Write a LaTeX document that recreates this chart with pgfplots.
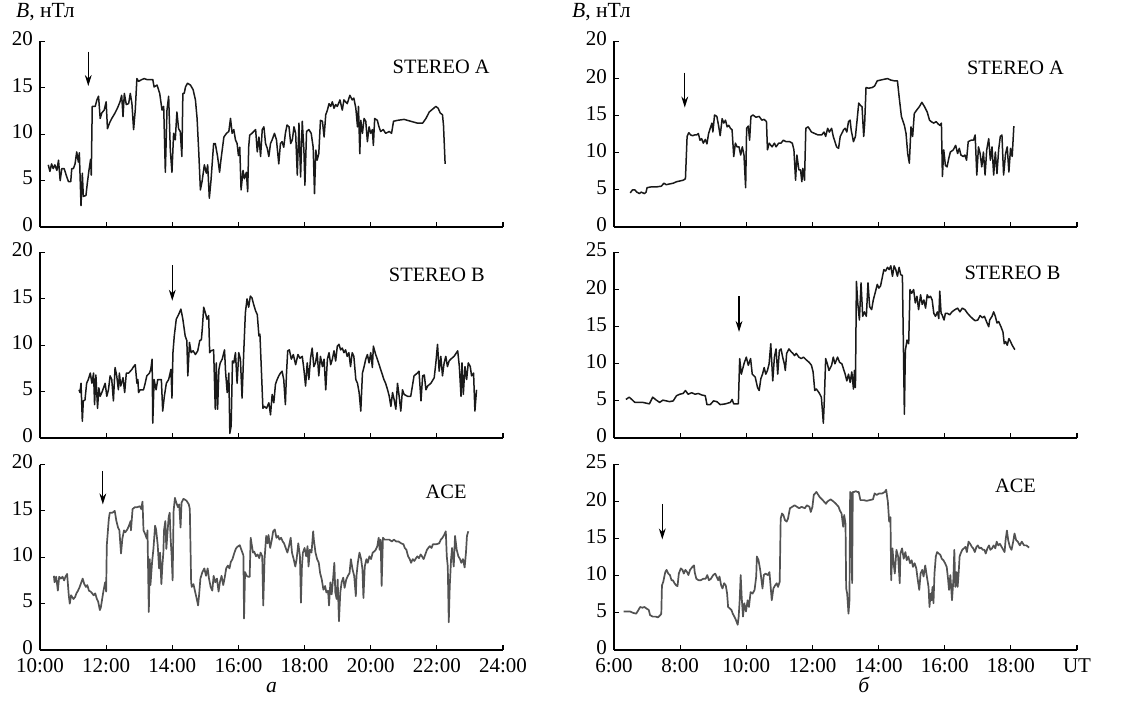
\documentclass[border=0pt]{standalone}
\usepackage{fontspec}
\setmainfont{Liberation Serif}
\usepackage{pgfplots}
\pgfplotsset{compat=1.18}
\usetikzlibrary{arrows.meta}
\tikzset{
  lab/.style={font=\fontsize{10.2}{12}\selectfont},
  st/.style={black!90, line width=0.75pt, line join=round},
  ace/.style={black!68, line width=0.85pt, line join=round},
  arr/.style={black, line width=0.6pt, -{Stealth[length=5.5pt,width=3.4pt]}},
  sub/.style={anchor=base, yshift=-21pt, inner sep=0.5pt, font=\fontsize{10.8}{12}\selectfont},
}
\begin{document}
\begin{tikzpicture}
\useasboundingbox (0,0) rectangle (561pt,350.5pt);
\pgfplotsset{
  panel/.style={scale only axis, width=231.5pt, height=92.75pt, anchor=south west,
    axis x line=bottom, axis y line=left, axis line style={-, line width=0.55pt},
    tick align=inside, major tick length=2.5pt, tick style={black, line width=0.55pt},
    ymin=0, xticklabels={}, clip=false,
    yticklabel style={font=\fontsize{10.5}{12}\selectfont, inner ysep=0.5pt, yshift=1.2pt},
    xticklabel style={font=\fontsize{10.5}{12}\selectfont, inner ysep=1pt, yshift=-3pt}},
  L/.style={xmin=10, xmax=24, xtick={10,12,14,16,18,20,22,24}},
  R/.style={xmin=6, xmax=20, xtick={6,8,10,12,14,16,18,20}},
  y20/.style={ymax=20, ytick={0,5,10,15,20}, yticklabels={0,5,10,15,20}},
  y25/.style={ymax=25, ytick={0,5,10,15,20,25}, yticklabels={0,5,10,15,20,25}},
}
\node[anchor=west, font=\fontsize{10.8}{12}\selectfont] at (4.5pt,344.5pt) {\textit{B}, нТл};
\node[anchor=west, font=\fontsize{10.8}{12}\selectfont] at (282.5pt,344.5pt) {\textit{B}, нТл};

% ---------- left top: STEREO A ----------
\begin{axis}[panel, L, y20, at={(20pt,237pt)}]
\addplot[st] coordinates {(10.25,6.7)(10.30,6.0)(10.35,6.8)(10.40,6.3)(10.45,6.7)(10.51,6.1)(10.56,7.2)(10.61,5.0)(10.66,6.3)(10.73,6.3)(10.81,5.4)(10.86,4.9)(10.93,4.9)(10.96,6.3)(11.01,6.3)(11.06,6.8)(11.11,8.1)(11.16,7.0)(11.19,8.0)(11.24,2.3)(11.28,5.8)(11.31,3.3)(11.39,3.4)(11.43,4.7)(11.48,6.1)(11.53,7.3)(11.55,5.6)(11.58,13.0)(11.67,13.0)(11.72,13.7)(11.77,14.1)(11.82,11.7)(11.87,12.3)(11.94,12.6)(12.00,13.5)(12.04,10.6)(12.10,11.2)(12.17,11.7)(12.27,12.3)(12.34,12.8)(12.42,13.5)(12.47,14.2)(12.51,11.9)(12.55,14.4)(12.61,13.2)(12.68,13.3)(12.73,14.4)(12.78,13.3)(12.83,10.5)(12.88,12.6)(12.93,16.0)(12.98,15.7)(13.08,15.9)(13.15,16.0)(13.23,15.9)(13.33,15.9)(13.41,15.9)(13.45,15.1)(13.54,15.3)(13.62,14.4)(13.69,12.6)(13.74,13.0)(13.79,5.9)(13.84,12.6)(13.89,14.1)(13.94,8.3)(13.99,5.9)(14.04,10.1)(14.09,9.4)(14.14,12.4)(14.19,10.6)(14.24,10.3)(14.29,7.6)(14.32,14.4)(14.36,14.4)(14.40,15.1)(14.46,15.5)(14.55,15.3)(14.63,14.8)(14.70,13.7)(14.75,11.7)(14.80,8.1)(14.85,4.0)(14.90,4.9)(14.97,6.7)(15.03,5.8)(15.07,6.7)(15.12,3.1)(15.17,5.0)(15.25,9.0)(15.30,9.0)(15.37,7.6)(15.43,5.9)(15.47,7.2)(15.56,9.7)(15.64,10.1)(15.71,10.3)(15.76,11.7)(15.81,10.1)(15.86,10.5)(15.91,9.4)(15.96,9.0)(16.00,7.7)(16.04,8.6)(16.08,4.0)(16.14,6.1)(16.18,5.2)(16.24,5.9)(16.28,3.8)(16.31,8.6)(16.34,9.9)(16.41,10.1)(16.52,10.5)(16.57,8.1)(16.62,9.7)(16.67,7.6)(16.72,10.5)(16.77,10.8)(16.82,9.0)(16.87,8.5)(16.92,7.6)(16.97,9.0)(17.02,9.4)(17.09,10.1)(17.15,9.4)(17.22,6.8)(17.27,9.0)(17.32,9.2)(17.37,8.6)(17.42,10.1)(17.47,11.0)(17.53,10.8)(17.58,9.0)(17.63,9.4)(17.68,10.8)(17.73,10.1)(17.78,5.6)(17.83,11.2)(17.88,5.4)(17.93,11.4)(17.98,8.3)(18.01,4.5)(18.06,10.3)(18.13,10.5)(18.20,10.1)(18.26,8.6)(18.30,3.6)(18.34,8.3)(18.38,7.2)(18.43,7.9)(18.48,11.5)(18.54,11.4)(18.59,9.7)(18.64,12.1)(18.69,12.6)(18.74,13.3)(18.79,13.0)(18.84,13.5)(18.89,12.8)(18.94,13.2)(18.99,13.0)(19.07,13.7)(19.14,12.6)(19.19,13.7)(19.29,13.3)(19.37,14.2)(19.44,13.7)(19.49,13.9)(19.55,12.8)(19.60,10.8)(19.63,13.0)(19.67,7.9)(19.70,11.5)(19.75,10.1)(19.80,11.7)(19.85,11.4)(19.90,9.2)(19.95,10.8)(20.00,10.1)(20.05,10.5)(20.08,8.8)(20.12,11.7)(20.20,11.5)(20.25,10.8)(20.30,10.3)(20.38,10.5)(20.45,10.1)(20.56,10.3)(20.63,10.1)(20.69,11.4)(20.81,11.5)(21.01,11.6)(21.21,11.4)(21.41,11.2)(21.57,11.2)(21.67,11.7)(21.77,12.4)(21.87,12.7)(21.97,13.0)(22.04,12.8)(22.10,12.3)(22.17,12.1)(22.20,11.0)(22.25,6.8)};
\addplot[arr] coordinates {(11.46,18.9) (11.46,15.2)};
\node[lab] at (axis cs:22.13,17.3) {STEREO A};
\end{axis}

% ---------- left middle: STEREO B ----------
\begin{axis}[panel, L, y20, at={(20pt,131.5pt)}]
\addplot[st] coordinates {(11.18,5.2)(11.21,4.9)(11.24,5.9)(11.28,1.8)(11.31,4.0)(11.36,4.1)(11.41,5.9)(11.46,6.3)(11.52,7.0)(11.57,5.9)(11.62,7.0)(11.65,3.6)(11.69,6.8)(11.74,3.2)(11.78,5.4)(11.82,4.5)(11.87,4.9)(11.92,5.4)(11.97,5.9)(12.02,4.5)(12.07,5.2)(12.12,6.7)(12.17,6.3)(12.22,4.0)(12.27,7.6)(12.32,6.7)(12.37,5.2)(12.40,7.0)(12.44,5.6)(12.51,6.5)(12.56,4.9)(12.61,7.0)(12.68,7.0)(12.73,7.2)(12.78,7.4)(12.83,7.7)(12.88,7.9)(12.93,5.9)(12.96,6.3)(12.98,4.9)(13.03,5.2)(13.13,5.2)(13.18,5.9)(13.23,6.7)(13.31,7.0)(13.35,7.4)(13.39,8.5)(13.41,1.6)(13.45,6.3)(13.51,5.2)(13.56,6.3)(13.62,6.3)(13.67,6.3)(13.71,2.9)(13.76,4.5)(13.82,5.9)(13.89,6.3)(13.96,7.4)(13.99,4.3)(14.02,9.2)(14.06,11.0)(14.12,12.8)(14.19,13.3)(14.26,13.9)(14.32,12.8)(14.39,11.0)(14.44,10.5)(14.47,6.7)(14.52,10.3)(14.57,9.2)(14.63,9.4)(14.70,9.0)(14.77,9.4)(14.83,10.5)(14.88,10.6)(14.91,11.9)(14.95,14.1)(15.00,13.5)(15.05,12.8)(15.10,13.2)(15.13,9.2)(15.17,9.4)(15.25,9.5)(15.30,3.1)(15.33,8.1)(15.37,3.1)(15.41,7.4)(15.45,8.1)(15.51,8.5)(15.58,9.5)(15.61,7.2)(15.66,4.9)(15.71,7.0)(15.74,0.5)(15.78,1.3)(15.82,8.3)(15.86,8.1)(15.91,9.2)(15.96,5.9)(16.01,9.2)(16.06,8.5)(16.11,4.3)(16.16,9.2)(16.21,13.5)(16.26,15.0)(16.31,14.1)(16.36,15.3)(16.41,15.1)(16.46,14.4)(16.52,13.7)(16.57,13.3)(16.62,11.0)(16.65,11.2)(16.69,7.7)(16.74,3.2)(16.79,3.4)(16.85,3.2)(16.92,3.8)(16.97,2.5)(17.02,4.7)(17.07,3.8)(17.12,5.8)(17.17,6.3)(17.22,6.7)(17.27,7.0)(17.32,7.2)(17.37,6.3)(17.42,3.6)(17.45,6.7)(17.49,9.4)(17.54,9.5)(17.60,8.5)(17.66,9.0)(17.73,7.9)(17.80,9.0)(17.86,8.6)(17.93,8.8)(17.98,7.4)(18.03,5.6)(18.08,8.1)(18.13,6.3)(18.18,8.6)(18.23,9.7)(18.28,7.7)(18.33,8.1)(18.38,9.2)(18.43,6.7)(18.48,8.8)(18.54,7.7)(18.59,8.5)(18.64,5.2)(18.69,8.5)(18.74,9.2)(18.79,7.9)(18.84,8.5)(18.89,9.4)(18.94,8.3)(18.99,9.9)(19.04,10.1)(19.09,9.5)(19.14,9.7)(19.19,9.2)(19.24,9.5)(19.29,8.8)(19.34,9.2)(19.39,7.7)(19.44,9.2)(19.49,8.8)(19.55,6.3)(19.60,5.9)(19.65,4.9)(19.70,2.9)(19.75,7.0)(19.80,7.7)(19.85,8.5)(19.90,9.0)(19.95,8.1)(20.00,9.2)(20.05,7.6)(20.08,9.9)(20.15,9.0)(20.20,8.5)(20.30,7.4)(20.40,6.3)(20.45,5.9)(20.51,5.2)(20.56,4.5)(20.61,3.4)(20.66,4.9)(20.71,4.1)(20.76,3.1)(20.81,5.9)(20.86,4.5)(20.91,2.9)(20.96,5.2)(21.01,4.7)(21.11,4.5)(21.21,4.5)(21.31,6.7)(21.41,7.0)(21.46,7.2)(21.52,4.0)(21.57,6.7)(21.62,6.8)(21.67,5.2)(21.72,5.6)(21.82,5.9)(21.92,6.5)(21.97,8.1)(22.02,10.1)(22.07,7.2)(22.12,8.8)(22.17,6.7)(22.22,8.1)(22.27,8.8)(22.32,7.7)(22.37,8.3)(22.42,8.5)(22.52,8.8)(22.63,9.4)(22.68,7.7)(22.73,4.5)(22.76,8.1)(22.80,4.7)(22.85,7.7)(22.90,6.3)(22.95,8.1)(23.01,7.7)(23.05,6.7)(23.11,7.0)(23.15,2.9)(23.20,5.2)};
\addplot[arr] coordinates {(14.0,18.6) (14.0,14.8)};
\node[lab] at (axis cs:22.0,17.6) {STEREO B};
\end{axis}

% ---------- left bottom: ACE ----------
\begin{axis}[panel, L, y20, at={(20pt,25.5pt)},
  xticklabels={10:00,12:00,14:00,16:00,18:00,20:00,22:00,24:00}]
\addplot[ace] coordinates {(10.42,8.0)(10.44,7.3)(10.49,7.9)(10.54,6.4)(10.58,7.9)(10.63,7.7)(10.68,7.9)(10.73,7.5)(10.77,7.9)(10.82,8.2)(10.87,5.9)(10.90,5.0)(10.94,5.9)(11.01,5.5)(11.06,5.7)(11.10,6.1)(11.15,6.4)(11.20,6.8)(11.25,7.3)(11.29,7.7)(11.34,7.1)(11.39,6.8)(11.43,7.0)(11.48,6.4)(11.53,6.3)(11.58,6.1)(11.62,5.9)(11.67,6.1)(11.72,5.5)(11.76,5.2)(11.81,4.3)(11.84,4.6)(11.88,5.5)(11.92,6.4)(11.97,7.3)(12.00,6.3)(12.02,11.3)(12.05,12.7)(12.08,14.1)(12.11,14.8)(12.19,14.8)(12.26,15.0)(12.31,13.9)(12.36,13.2)(12.40,12.9)(12.43,11.4)(12.45,10.4)(12.49,12.0)(12.54,12.9)(12.58,12.7)(12.64,13.0)(12.69,13.4)(12.74,13.9)(12.75,12.9)(12.80,15.2)(12.87,15.4)(12.94,15.4)(13.02,15.5)(13.06,15.2)(13.10,16.0)(13.13,12.9)(13.18,12.5)(13.23,12.0)(13.25,12.9)(13.29,4.1)(13.32,9.8)(13.34,7.0)(13.39,9.5)(13.43,10.9)(13.48,13.4)(13.51,13.0)(13.56,11.3)(13.60,8.8)(13.63,10.5)(13.67,7.1)(13.70,9.1)(13.73,10.5)(13.75,12.9)(13.79,13.9)(13.82,10.9)(13.86,12.9)(13.89,14.3)(13.92,14.8)(13.95,12.0)(13.98,10.2)(14.01,7.5)(14.04,15.0)(14.08,16.4)(14.12,15.9)(14.17,15.4)(14.21,15.7)(14.25,13.2)(14.28,15.9)(14.34,16.3)(14.43,16.1)(14.50,15.7)(14.53,15.2)(14.57,7.3)(14.59,6.8)(14.64,7.1)(14.69,6.3)(14.74,5.5)(14.78,4.8)(14.81,5.9)(14.85,7.7)(14.91,8.4)(14.97,8.8)(15.02,8.0)(15.07,8.8)(15.11,7.7)(15.16,6.8)(15.21,6.4)(15.25,8.0)(15.30,7.3)(15.35,7.7)(15.40,6.3)(15.44,7.3)(15.49,8.0)(15.54,7.0)(15.58,7.7)(15.63,8.8)(15.68,9.1)(15.73,8.8)(15.77,9.5)(15.82,9.8)(15.87,10.4)(15.92,10.9)(15.96,11.1)(16.04,11.3)(16.10,10.7)(16.15,10.2)(16.17,3.4)(16.20,8.4)(16.25,8.0)(16.29,7.9)(16.34,7.9)(16.37,12.1)(16.44,10.5)(16.48,10.6)(16.53,10.1)(16.58,10.3)(16.63,9.9)(16.67,10.5)(16.72,10.1)(16.75,4.8)(16.79,9.8)(16.84,12.3)(16.88,11.5)(16.91,12.4)(16.96,11.0)(17.01,11.9)(17.05,12.8)(17.10,13.0)(17.15,12.1)(17.20,12.3)(17.24,11.9)(17.29,12.1)(17.34,11.7)(17.38,11.5)(17.43,11.0)(17.48,10.5)(17.53,11.2)(17.58,12.1)(17.62,10.5)(17.67,9.8)(17.72,9.0)(17.76,9.8)(17.81,11.5)(17.86,10.1)(17.89,5.1)(17.92,9.0)(17.95,10.5)(18.00,11.0)(18.05,10.1)(18.09,11.2)(18.12,9.0)(18.16,10.8)(18.21,10.5)(18.26,12.8)(18.28,11.9)(18.33,10.5)(18.38,9.8)(18.43,9.4)(18.47,8.3)(18.52,7.6)(18.57,6.5)(18.62,6.9)(18.66,6.2)(18.71,6.4)(18.74,4.8)(18.78,7.3)(18.82,6.0)(18.87,8.0)(18.90,9.4)(18.93,6.2)(18.97,5.5)(19.00,7.6)(19.04,3.1)(19.08,6.2)(19.12,7.3)(19.17,7.8)(19.21,6.7)(19.26,7.6)(19.31,8.0)(19.36,8.3)(19.40,9.8)(19.45,8.7)(19.50,8.0)(19.55,5.8)(19.57,8.0)(19.61,9.4)(19.66,10.5)(19.71,9.8)(19.75,8.7)(19.78,5.6)(19.82,9.0)(19.87,9.8)(19.91,9.4)(19.96,10.1)(20.01,9.8)(20.06,10.5)(20.10,10.6)(20.15,10.8)(20.20,11.2)(20.24,12.1)(20.27,10.8)(20.30,11.9)(20.33,6.9)(20.37,12.1)(20.42,11.9)(20.48,11.9)(20.56,11.9)(20.64,11.7)(20.70,11.9)(20.77,11.7)(20.84,11.7)(20.92,11.5)(20.99,11.4)(21.03,11.0)(21.08,10.8)(21.13,10.1)(21.18,9.8)(21.22,9.4)(21.27,9.8)(21.32,9.6)(21.37,9.9)(21.41,10.1)(21.46,9.9)(21.51,10.3)(21.55,10.1)(21.60,9.8)(21.65,10.3)(21.70,10.8)(21.74,11.0)(21.79,11.2)(21.84,11.0)(21.88,11.4)(21.98,11.4)(22.07,11.5)(22.12,11.9)(22.17,12.1)(22.22,12.4)(22.27,12.8)(22.30,10.1)(22.33,9.0)(22.36,3.0)(22.39,6.9)(22.43,9.8)(22.46,11.0)(22.51,9.0)(22.55,12.3)(22.60,10.8)(22.65,10.1)(22.70,9.8)(22.74,9.4)(22.79,9.8)(22.84,8.9)(22.88,10.5)(22.91,12.3)(22.95,12.8)};
\addplot[arr] coordinates {(11.90,19.3) (11.90,15.7)};
\node[lab] at (axis cs:22.28,17.1) {ACE};
\node[sub] at (rel axis cs:0.5,0) {\textit{а}};
\end{axis}

% ---------- right top: STEREO A ----------
\begin{axis}[panel, R, y25, yticklabels={0,5,10,15,20,20}, at={(307pt,237pt)}]
\addplot[st] coordinates {(6.49,4.6)(6.56,5.0)(6.63,5.0)(6.69,4.7)(6.77,4.5)(6.82,4.7)(6.87,4.6)(6.92,4.5)(6.97,4.7)(7.00,5.3)(7.12,5.4)(7.28,5.4)(7.43,5.5)(7.51,5.9)(7.58,5.7)(7.68,5.8)(7.79,5.9)(7.89,6.1)(7.99,6.2)(8.09,6.3)(8.16,6.5)(8.21,12.2)(8.26,12.7)(8.32,12.4)(8.38,12.3)(8.43,12.4)(8.50,12.4)(8.55,12.6)(8.60,11.7)(8.65,11.9)(8.70,11.3)(8.76,11.8)(8.81,11.2)(8.86,12.6)(8.91,13.3)(8.96,14.0)(8.99,12.8)(9.04,15.1)(9.11,14.9)(9.16,13.7)(9.21,12.3)(9.27,14.6)(9.32,14.0)(9.37,14.4)(9.42,13.5)(9.47,13.7)(9.52,13.3)(9.57,13.1)(9.62,9.5)(9.67,11.3)(9.72,10.8)(9.78,10.8)(9.83,9.7)(9.88,10.8)(9.93,9.7)(9.98,5.3)(10.01,13.3)(10.06,13.6)(10.10,11.7)(10.14,14.9)(10.20,15.1)(10.29,14.8)(10.39,14.9)(10.47,14.4)(10.54,14.5)(10.61,14.2)(10.64,10.4)(10.69,11.3)(10.78,10.8)(10.85,11.3)(10.90,10.8)(10.98,11.3)(11.05,11.3)(11.12,11.7)(11.20,11.5)(11.31,11.5)(11.39,11.3)(11.44,10.4)(11.49,6.3)(11.53,9.7)(11.59,7.7)(11.64,7.7)(11.68,6.1)(11.71,7.9)(11.76,6.3)(11.80,13.3)(11.87,13.5)(11.97,12.8)(12.07,12.6)(12.17,12.4)(12.28,12.4)(12.35,12.8)(12.40,12.2)(12.46,13.3)(12.51,12.8)(12.58,13.3)(12.63,12.2)(12.68,11.5)(12.73,10.8)(12.79,10.6)(12.84,12.2)(12.91,12.8)(12.94,13.1)(12.99,13.3)(13.04,12.8)(13.09,14.2)(13.14,14.4)(13.17,13.1)(13.21,12.2)(13.24,11.5)(13.30,12.2)(13.35,14.4)(13.40,16.7)(13.45,16.4)(13.50,16.2)(13.55,12.2)(13.58,14.0)(13.62,18.8)(13.70,18.7)(13.81,18.8)(13.88,19.0)(13.96,19.7)(14.06,19.8)(14.16,19.9)(14.27,20.0)(14.37,19.8)(14.47,19.7)(14.57,19.7)(14.62,17.6)(14.69,14.9)(14.78,13.7)(14.83,12.6)(14.88,9.9)(14.93,8.6)(14.98,13.5)(15.03,12.2)(15.08,15.3)(15.16,15.8)(15.23,16.2)(15.31,16.8)(15.39,16.2)(15.47,15.5)(15.54,14.4)(15.59,14.2)(15.67,14.0)(15.74,14.2)(15.80,13.9)(15.85,13.7)(15.90,14.0)(15.93,6.8)(15.97,10.4)(16.02,8.3)(16.07,8.1)(16.12,9.2)(16.17,10.1)(16.26,10.4)(16.33,11.0)(16.39,9.9)(16.44,10.6)(16.49,9.7)(16.56,9.5)(16.61,9.7)(16.66,9.0)(16.71,11.5)(16.80,11.7)(16.87,11.7)(16.92,12.4)(16.97,7.0)(17.02,10.8)(17.07,9.9)(17.12,8.1)(17.17,10.1)(17.22,7.0)(17.27,10.4)(17.33,11.9)(17.38,9.0)(17.43,10.8)(17.48,7.0)(17.53,10.1)(17.58,7.2)(17.63,10.4)(17.68,12.2)(17.73,12.4)(17.78,7.0)(17.84,9.9)(17.89,10.8)(17.94,7.4)(17.99,10.6)(18.04,9.5)(18.09,13.6)};
\addplot[arr] coordinates {(8.14,20.8) (8.14,16.1)};
\node[lab] at (axis cs:18.14,21.4) {STEREO A};
\end{axis}

% ---------- right middle: STEREO B ----------
\begin{axis}[panel, R, y25, at={(307pt,131.5pt)}]
\addplot[st] coordinates {(6.36,5.2)(6.46,5.5)(6.56,5.1)(6.63,4.8)(6.77,4.8)(6.87,4.8)(6.97,4.7)(7.07,4.6)(7.17,5.5)(7.28,5.1)(7.38,4.8)(7.48,5.1)(7.58,5.0)(7.68,4.9)(7.79,5.0)(7.89,5.7)(7.99,5.9)(8.09,6.0)(8.16,6.4)(8.24,5.9)(8.35,6.1)(8.45,5.9)(8.55,6.0)(8.65,5.8)(8.76,5.7)(8.81,4.5)(8.91,4.5)(9.01,5.0)(9.11,4.9)(9.21,4.5)(9.37,4.6)(9.52,4.8)(9.57,5.2)(9.62,4.6)(9.76,4.6)(9.80,10.7)(9.85,8.6)(9.93,10.0)(10.00,10.9)(10.06,9.8)(10.13,10.7)(10.18,8.6)(10.27,8.2)(10.34,6.8)(10.39,6.4)(10.44,8.0)(10.49,8.6)(10.54,9.5)(10.59,8.6)(10.64,9.1)(10.69,10.0)(10.74,12.7)(10.80,7.7)(10.85,10.9)(10.90,12.0)(10.95,8.6)(11.00,11.8)(11.05,12.0)(11.10,10.9)(11.15,10.0)(11.18,9.1)(11.22,11.4)(11.29,12.0)(11.36,11.6)(11.41,11.4)(11.46,11.1)(11.51,11.4)(11.59,10.9)(11.66,10.7)(11.73,10.9)(11.82,10.5)(11.90,10.2)(11.97,9.8)(12.02,8.9)(12.07,6.4)(12.12,6.6)(12.20,6.1)(12.27,5.5)(12.33,2.0)(12.36,5.2)(12.40,10.7)(12.45,10.0)(12.50,9.1)(12.58,9.8)(12.63,10.9)(12.68,10.0)(12.76,10.9)(12.82,10.2)(12.89,10.0)(12.94,9.3)(12.99,8.6)(13.04,7.7)(13.09,8.6)(13.14,7.5)(13.19,8.9)(13.24,6.6)(13.27,9.1)(13.30,6.8)(13.33,21.1)(13.37,18.2)(13.42,15.9)(13.47,20.9)(13.52,16.4)(13.57,17.0)(13.63,16.4)(13.68,20.9)(13.73,17.7)(13.79,17.3)(13.84,18.6)(13.91,19.8)(13.96,20.7)(14.01,20.2)(14.06,20.5)(14.11,21.6)(14.16,22.7)(14.21,22.5)(14.27,23.0)(14.32,22.7)(14.37,23.2)(14.42,21.8)(14.47,23.2)(14.52,22.7)(14.57,21.8)(14.62,23.0)(14.67,22.0)(14.72,21.9)(14.78,3.2)(14.81,11.8)(14.86,13.2)(14.91,12.7)(14.95,20.0)(15.00,19.5)(15.06,20.0)(15.11,18.2)(15.16,19.1)(15.21,17.3)(15.27,19.3)(15.32,18.0)(15.37,18.6)(15.42,17.5)(15.47,19.3)(15.52,18.9)(15.57,19.1)(15.62,18.6)(15.67,16.8)(15.72,16.4)(15.78,17.0)(15.82,16.1)(15.85,19.8)(15.89,16.8)(15.92,16.6)(15.98,15.9)(16.02,16.8)(16.08,16.8)(16.15,16.6)(16.22,17.0)(16.31,17.3)(16.39,17.5)(16.46,17.0)(16.53,17.5)(16.61,17.3)(16.69,16.8)(16.77,16.4)(16.84,16.1)(16.92,15.8)(17.00,15.9)(17.07,16.5)(17.14,16.2)(17.20,16.4)(17.28,15.5)(17.33,15.0)(17.36,15.9)(17.43,16.4)(17.48,17.0)(17.53,16.4)(17.58,15.5)(17.63,15.7)(17.70,15.0)(17.76,14.3)(17.80,12.7)(17.84,13.0)(17.89,12.5)(17.94,13.4)(17.99,13.0)(18.04,12.5)(18.12,11.9)};
\addplot[arr] coordinates {(9.78,19.1) (9.78,14.3)};
\node[lab] at (axis cs:18.05,22.25) {STEREO B};
\end{axis}

% ---------- right bottom: ACE ----------
\begin{axis}[panel, R, y25, at={(307pt,25.5pt)},
  xticklabels={6:00,8:00,10:00,12:00,14:00,16:00,18:00,UT}]
\addplot[ace] coordinates {(6.29,5.2)(6.39,5.2)(6.48,5.2)(6.58,5.0)(6.67,4.9)(6.74,5.4)(6.79,5.8)(6.86,5.7)(6.92,5.8)(6.98,5.6)(7.05,5.4)(7.09,4.7)(7.17,4.5)(7.26,4.5)(7.33,4.4)(7.40,4.7)(7.43,4.9)(7.45,8.7)(7.49,9.2)(7.55,10.5)(7.59,10.8)(7.64,10.3)(7.69,10.1)(7.74,9.4)(7.78,9.4)(7.83,9.0)(7.88,8.7)(7.92,8.6)(7.96,10.3)(8.02,11.0)(8.07,10.8)(8.11,10.3)(8.16,10.8)(8.21,10.5)(8.25,10.1)(8.30,10.8)(8.37,11.2)(8.42,11.4)(8.44,10.5)(8.49,9.6)(8.56,9.4)(8.62,9.4)(8.70,9.6)(8.77,9.6)(8.82,10.1)(8.87,9.4)(8.93,9.6)(9.00,10.1)(9.06,10.3)(9.10,9.9)(9.15,9.4)(9.19,9.9)(9.24,8.7)(9.28,8.3)(9.33,9.0)(9.38,8.7)(9.42,7.6)(9.45,5.8)(9.50,5.6)(9.55,5.4)(9.59,4.9)(9.64,4.5)(9.69,4.0)(9.74,3.4)(9.77,4.5)(9.80,6.7)(9.83,10.1)(9.86,7.2)(9.90,4.5)(9.94,6.3)(9.99,5.2)(10.04,6.7)(10.08,5.8)(10.13,7.8)(10.19,7.6)(10.25,8.1)(10.30,9.9)(10.32,12.6)(10.37,12.1)(10.42,10.8)(10.46,9.4)(10.49,8.3)(10.53,10.1)(10.58,10.3)(10.65,10.1)(10.70,10.5)(10.75,7.8)(10.77,6.7)(10.82,8.3)(10.87,8.7)(10.92,9.0)(10.96,8.5)(11.01,9.2)(11.04,17.7)(11.08,18.4)(11.12,18.2)(11.17,17.5)(11.22,17.3)(11.26,17.7)(11.32,19.1)(11.39,19.3)(11.46,19.5)(11.53,19.3)(11.60,19.1)(11.67,19.3)(11.77,19.1)(11.83,19.5)(11.91,19.3)(11.95,18.6)(12.00,19.3)(12.04,20.9)(12.12,21.3)(12.22,20.6)(12.31,20.2)(12.41,19.7)(12.45,20.0)(12.55,20.3)(12.64,20.0)(12.71,19.7)(12.79,19.3)(12.83,18.8)(12.88,18.4)(12.93,16.6)(12.96,18.2)(13.00,17.0)(13.02,8.3)(13.05,7.6)(13.09,4.9)(13.12,6.7)(13.14,21.3)(13.17,21.1)(13.20,9.0)(13.22,21.3)(13.26,21.3)(13.31,21.4)(13.36,21.3)(13.40,21.3)(13.45,20.2)(13.55,20.2)(13.64,20.1)(13.73,20.2)(13.83,20.3)(13.88,21.1)(13.94,20.9)(14.02,21.1)(14.11,21.1)(14.19,21.3)(14.23,21.6)(14.26,20.6)(14.28,20.0)(14.32,17.3)(14.36,17.9)(14.38,9.4)(14.42,13.7)(14.45,11.9)(14.49,10.3)(14.54,13.5)(14.59,12.6)(14.64,9.0)(14.66,13.0)(14.71,13.7)(14.76,12.3)(14.81,13.2)(14.85,12.1)(14.90,12.6)(14.95,11.7)(15.00,12.1)(15.04,11.2)(15.09,11.7)(15.14,11.0)(15.18,9.6)(15.23,8.1)(15.27,10.3)(15.32,10.8)(15.36,9.9)(15.41,11.4)(15.46,9.9)(15.51,8.5)(15.54,5.8)(15.57,7.6)(15.60,6.7)(15.63,8.5)(15.66,6.3)(15.69,10.3)(15.73,12.6)(15.77,13.2)(15.82,13.0)(15.87,12.8)(15.91,12.3)(15.96,12.1)(16.01,11.7)(16.06,11.2)(16.10,9.6)(16.13,8.1)(16.17,10.1)(16.22,6.7)(16.26,9.4)(16.29,13.5)(16.32,8.5)(16.36,10.5)(16.39,8.5)(16.42,10.3)(16.45,12.6)(16.48,13.0)(16.53,13.5)(16.58,13.7)(16.63,13.9)(16.67,13.2)(16.72,14.6)(16.77,14.3)(16.82,13.9)(16.86,13.7)(16.91,13.2)(16.96,13.9)(17.00,14.1)(17.05,13.7)(17.10,13.8)(17.15,13.5)(17.20,13.5)(17.24,13.0)(17.29,13.7)(17.34,14.1)(17.38,13.5)(17.43,13.7)(17.48,14.1)(17.53,13.7)(17.57,14.6)(17.62,14.1)(17.67,14.3)(17.72,13.9)(17.77,13.5)(17.81,13.2)(17.84,14.8)(17.88,16.1)(17.92,14.8)(17.97,13.9)(18.02,13.5)(18.07,14.6)(18.11,15.7)(18.16,14.8)(18.21,14.6)(18.27,14.1)(18.33,14.6)(18.40,14.1)(18.47,14.1)(18.55,13.8)};
\addplot[arr] coordinates {(7.46,19.7) (7.46,14.9)};
\node[lab] at (axis cs:18.14,22.1) {ACE};
\node[sub] at (rel axis cs:0.54,0) {\textit{б}};
\end{axis}
\end{tikzpicture}
\end{document}
